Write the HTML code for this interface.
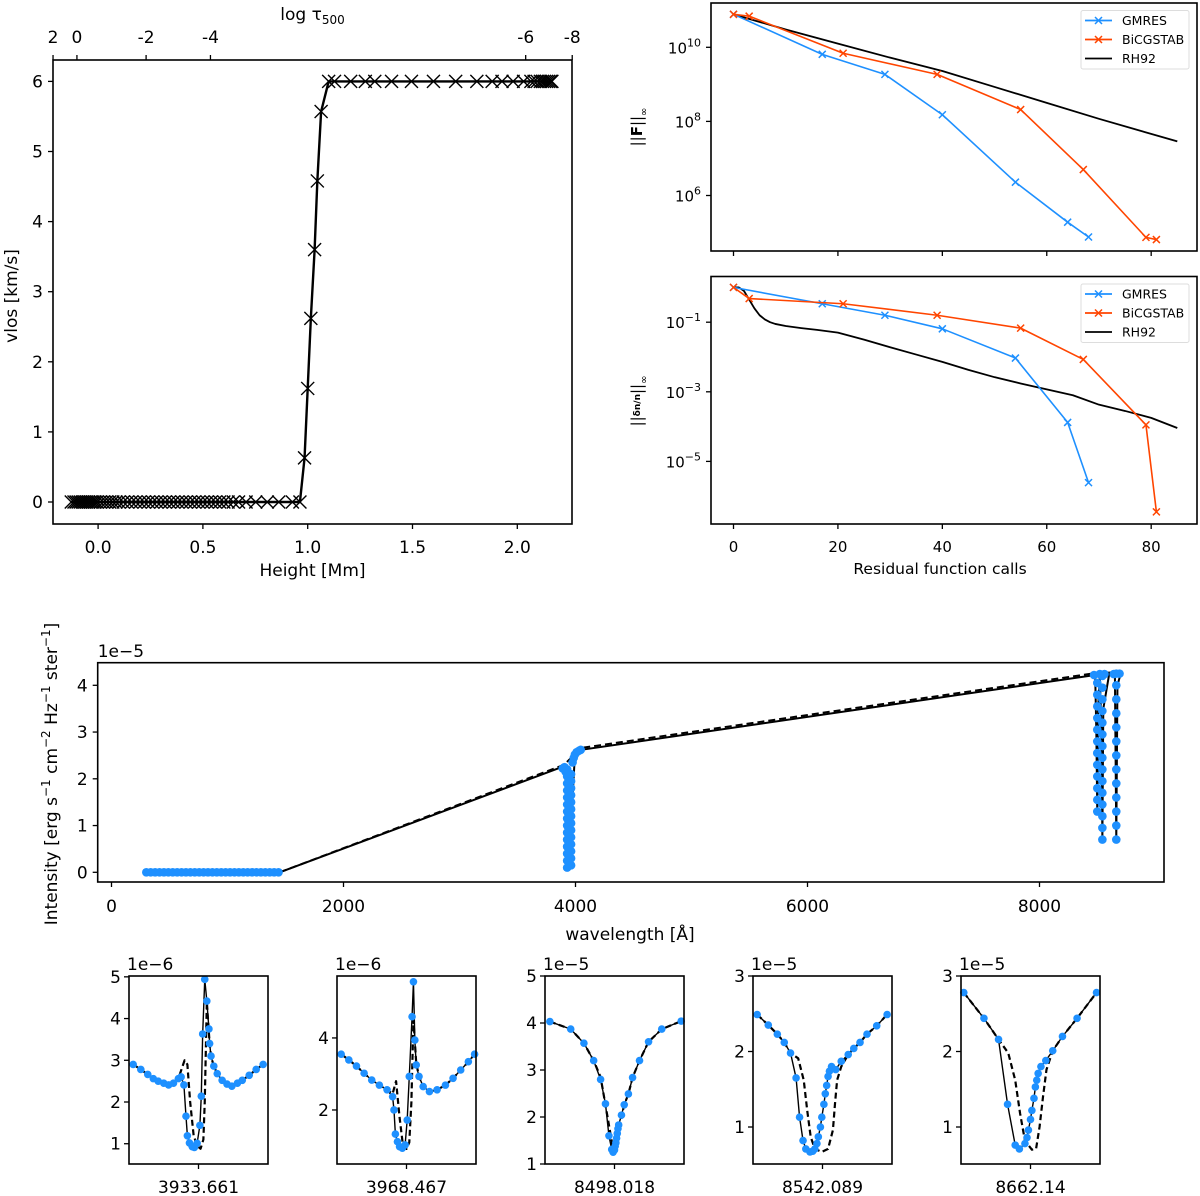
<!DOCTYPE html>
<html><head><meta charset="utf-8"><style>
html,body{margin:0;padding:0;background:#fff;}
svg{display:block;font-family:"DejaVu Sans","Liberation Sans",sans-serif;}
</style></head><body>
<svg id="fig" width="1200" height="1196" viewBox="0 0 1200 1196" xmlns="http://www.w3.org/2000/svg"></svg>
<script>
// ---------- data: top-left (velocity vs height) ----------
const heights=[-0.128,-0.115,-0.105,-0.095,-0.085,-0.075,-0.065,-0.055,-0.045,-0.035,-0.025,-0.015,-0.005,0.01,0.025,0.04,0.055,0.07,0.085,0.1,0.12,0.14,0.16,0.18,0.2,0.22,0.24,0.26,0.28,0.3,0.32,0.34,0.36,0.38,0.4,0.42,0.44,0.46,0.48,0.5,0.52,0.54,0.56,0.58,0.6,0.62,0.645,0.67,0.706,0.752,0.807,0.862,0.927,0.963,0.985,1.0,1.015,1.033,1.046,1.064,1.10,1.128,1.205,1.275,1.32,1.40,1.495,1.60,1.706,1.807,1.88,1.927,1.98,2.03,2.065,2.08,2.095,2.11,2.12,2.13,2.14,2.15,2.16,2.165];
const vlos=[0,0,0,0,0,0,0,0,0,0,0,0,0,0,0,0,0,0,0,0,0,0,0,0,0,0,0,0,0,0,0,0,0,0,0,0,0,0,0,0,0,0,0,0,0,0,0,0,0,0,0,0,0,0,0.63,1.62,2.62,3.6,4.58,5.57,6,6,6,6,6,6,6,6,6,6,6,6,6,6,6,6,6,6,6,6,6,6,6,6];
const hTickVals=[0,0.5,1,1.5,2];
const hTickLabels=['0.0','0.5','1.0','1.5','2.0'];
const vTickVals=[0,1,2,3,4,5,6];
const tauTickLabels=['2','0','-2','-4','-6','-8'];
const tauTickHeights=[-0.215,-0.101,0.229,0.536,2.040,2.262];

// ---------- data: convergence panels ----------
const gmCalls=[0,17,29,40,54,64,68];
const gmLogF=[10.89,9.81,9.27,8.18,6.36,5.28,4.88];
const biCalls=[0,3,21,39,55,67,79,81];
const biLogF=[10.89,10.84,9.84,9.27,8.32,6.7,4.87,4.81];
const rhCallsF=[0,10,20,30,40,50,60,70,85];
const rhLogF=[10.89,10.48,10.1,9.72,9.36,8.93,8.5,8.07,7.46];
const gmLogN=[0,-0.47,-0.8,-1.19,-2.03,-3.88,-5.61];
const biLogN=[0,-0.32,-0.47,-0.8,-1.17,-2.07,-3.95,-6.45];
const rhCallsN=[0,1,2,3,4,5,6,7,8,10,13,16,20,25,30,35,40,45,50,55,60,65,70,75,80,85];
const rhLogN=[0,0,-0.1,-0.35,-0.6,-0.8,-0.92,-1.0,-1.05,-1.11,-1.17,-1.22,-1.3,-1.5,-1.72,-1.93,-2.14,-2.37,-2.58,-2.76,-2.93,-3.1,-3.37,-3.55,-3.75,-4.04];
const callTicks=[0,20,40,60,80];
const fTickExps=[10,8,6];
const nTickExps=[-1,-3,-5];

// ---------- data: full spectrum ----------
const specWl=[1450,3870,3900,3915,3925,3934,3945,3955,3962,3968,3975,3990,4010,4030,4050,8480,8490,8498,8505,8520,8535,8542,8550,8600,8650,8662,8672,8700];
const specI=[0,2.24,2.28,2.0,1.0,0.1,1.5,1.5,0.6,0.12,1.6,2.3,2.45,2.55,2.62,4.22,3.0,1.28,3.5,4.2,3.0,0.68,3.5,4.23,4.24,0.7,4.0,4.25];
const specWlD=[1450,3880,3905,4050,8480,8700];
const specID=[0,2.28,2.31,2.66,4.26,4.28];
const dotWl=[300,338,376,414,452,490,528,566,604,642,680,718,756,794,832,870,908,946,984,1022,1060,1098,1136,1174,1212,1250,1288,1326,1364,1402,1440,
3890,3905,3915,3928,3928,3928,3928,3928,3928,3928,3928,3928,3928,3928,3928,3928,3928,3928,3962,3962,3962,3962,3962,3962,3962,3962,3962,3962,3962,3962,3962,3962,3975,3985,3995,4010,4030,4045,
8470,8498,8498,8498,8498,8498,8498,8498,8498,8498,8498,8498,8498,8520,8542,8542,8542,8542,8542,8542,8542,8542,8542,8542,8542,8542,8542,8542,8542,8560,8640,8662,8662,8662,8662,8662,8662,8662,8662,8662,8662,8662,8662,8662,8690];
const dotI=[0,0,0,0,0,0,0,0,0,0,0,0,0,0,0,0,0,0,0,0,0,0,0,0,0,0,0,0,0,0,0,
2.22,2.25,2.15,0.1,0.25,0.4,0.55,0.7,0.85,1.0,1.15,1.3,1.45,1.6,1.75,1.9,2.05,2.2,0.15,0.3,0.45,0.6,0.75,0.9,1.05,1.2,1.35,1.5,1.65,1.8,1.95,2.1,2.35,2.45,2.52,2.57,2.6,2.62,
4.22,1.3,1.55,1.8,2.05,2.3,2.55,2.8,3.05,3.3,3.55,3.8,4.05,4.24,0.7,0.95,1.2,1.45,1.7,1.95,2.2,2.45,2.7,2.95,3.2,3.45,3.7,3.95,4.2,4.24,4.24,0.7,1.0,1.3,1.6,1.9,2.2,2.5,2.8,3.1,3.4,3.7,4.0,4.25,4.25];
const wlTicks=[0,2000,4000,6000,8000];
const iTicks=[0,1,2,3,4];

// ---------- data: line-core panels ----------
const lineNames=['3933.661','3968.467','8498.018','8542.089','8662.14'];
const lineExp=['1e\u22126','1e\u22126','1e\u22125','1e\u22125','1e\u22125'];
const lineYlo=[0.514,0.5,1.0,0.51,0.51];
const lineYhi=[5.02,5.72,5.0,3.0,3.0];
const lineTicks=[[1,2,3,4,5],[2,4],[1,2,3,4,5],[1,2,3],[1,2,3]];
const p1x=[-0.94,-0.83,-0.73,-0.65,-0.58,-0.5,-0.43,-0.36,-0.29,-0.25,-0.21,-0.18,-0.16,-0.13,-0.09,-0.06,-0.02,0.02,0.04,0.06,0.09,0.12,0.15,0.16,0.18,0.22,0.27,0.34,0.41,0.48,0.56,0.63,0.73,0.83,0.93];
const p1v=[2.90,2.78,2.66,2.56,2.50,2.45,2.41,2.45,2.56,2.60,2.41,1.66,1.19,1.02,0.93,0.91,1.01,1.44,2.14,3.63,4.94,4.42,3.75,3.40,3.10,2.86,2.68,2.52,2.43,2.38,2.45,2.52,2.64,2.78,2.90];
const p1dx=[-0.94,-0.83,-0.73,-0.65,-0.58,-0.5,-0.43,-0.36,-0.29,-0.2,-0.16,-0.12,-0.07,-0.02,0.03,0.07,0.09,0.12,0.16,0.18,0.22,0.27,0.34,0.41,0.48,0.56,0.63,0.73,0.83,0.93];
const p1dv=[2.90,2.78,2.66,2.56,2.50,2.45,2.41,2.45,2.56,3.0,2.9,2.0,1.2,0.95,0.88,1.1,2.0,4.4,3.4,3.10,2.86,2.68,2.52,2.43,2.38,2.45,2.52,2.64,2.78,2.90];
const p2x=[-0.94,-0.83,-0.72,-0.61,-0.5,-0.39,-0.28,-0.2,-0.18,-0.16,-0.13,-0.1,-0.06,-0.02,0.01,0.04,0.08,0.1,0.12,0.14,0.18,0.24,0.33,0.44,0.56,0.67,0.78,0.89,0.98];
const p2v=[3.55,3.39,3.22,3.02,2.83,2.69,2.56,2.37,2.0,1.33,1.12,0.98,0.94,1.03,1.72,2.93,4.59,5.56,3.94,3.25,2.93,2.65,2.51,2.56,2.69,2.88,3.11,3.34,3.55];
const p2dx=[-0.94,-0.83,-0.72,-0.61,-0.5,-0.39,-0.28,-0.2,-0.15,-0.1,-0.05,0.0,0.04,0.07,0.1,0.14,0.18,0.24,0.33,0.44,0.56,0.67,0.78,0.89,0.98];
const p2dv=[3.55,3.39,3.22,3.02,2.83,2.69,2.56,2.45,2.8,1.8,1.0,0.92,1.1,2.2,4.5,3.3,2.93,2.65,2.51,2.56,2.69,2.88,3.11,3.34,3.55];
const p3x=[-0.93,-0.63,-0.44,-0.3,-0.2,-0.13,-0.08,-0.04,-0.02,0.0,0.01,0.02,0.03,0.04,0.05,0.06,0.1,0.14,0.2,0.26,0.36,0.49,0.68,0.96];
const p3v=[4.03,3.87,3.57,3.2,2.80,2.28,1.60,1.31,1.25,1.3,1.38,1.45,1.55,1.65,1.75,1.83,2.04,2.26,2.49,2.84,3.20,3.60,3.87,4.04];
const p3dx=[-0.93,-0.63,-0.44,-0.3,-0.2,-0.1,-0.03,0.02,0.06,0.1,0.14,0.2,0.26,0.36,0.49,0.68,0.96];
const p3dv=[4.03,3.87,3.57,3.2,2.85,2.0,1.4,1.25,1.6,2.0,2.26,2.49,2.84,3.20,3.60,3.87,4.04];
const p4x=[-0.94,-0.78,-0.65,-0.55,-0.46,-0.38,-0.33,-0.28,-0.24,-0.18,-0.14,-0.11,-0.08,-0.06,-0.03,-0.01,0.02,0.04,0.06,0.08,0.1,0.13,0.19,0.27,0.37,0.45,0.54,0.64,0.78,0.93];
const p4v=[2.49,2.35,2.23,2.12,1.98,1.65,1.13,0.82,0.71,0.67,0.68,0.71,0.78,0.87,1.0,1.13,1.3,1.44,1.55,1.67,1.74,1.8,1.76,1.87,1.96,2.04,2.12,2.23,2.34,2.49];
const p4dx=[-0.94,-0.78,-0.65,-0.55,-0.46,-0.35,-0.27,-0.22,-0.17,-0.11,-0.01,0.08,0.15,0.18,0.21,0.27,0.37,0.45,0.54,0.64,0.78,0.93];
const p4dv=[2.49,2.35,2.23,2.12,1.98,1.91,1.62,1.22,0.87,0.71,0.67,0.71,0.96,1.31,1.62,1.8,1.96,2.04,2.12,2.23,2.34,2.49];
const p5x=[-0.96,-0.67,-0.46,-0.33,-0.22,-0.16,-0.08,-0.05,-0.03,0.0,0.02,0.05,0.07,0.09,0.11,0.15,0.22,0.32,0.46,0.67,0.95];
const p5v=[2.78,2.44,2.16,1.30,0.76,0.71,0.78,0.86,0.96,1.1,1.22,1.38,1.53,1.62,1.71,1.8,1.88,2.01,2.2,2.44,2.78];
const p5dx=[-0.96,-0.67,-0.46,-0.32,-0.22,-0.15,-0.08,0.02,0.08,0.13,0.18,0.23,0.32,0.46,0.67,0.95];
const p5dv=[2.78,2.44,2.16,1.98,1.62,1.18,0.82,0.7,0.71,1.0,1.4,1.76,2.01,2.2,2.44,2.78];
const lineX=[p1x,p2x,p3x,p4x,p5x];
const lineV=[p1v,p2v,p3v,p4v,p5v];
const lineDX=[p1dx,p2dx,p3dx,p4dx,p5dx];
const lineDV=[p1dv,p2dv,p3dv,p4dv,p5dv];

// ---------- helpers ----------
const NS='http://www.w3.org/2000/svg';
const svg=document.getElementById('fig');
const BLUE='#1E90FF', RED='#FF4500';
function mk(tag,attrs,parent){const e=document.createElementNS(NS,tag);for(const k in attrs)e.setAttribute(k,attrs[k]);(parent||svg).appendChild(e);return e;}
function grp(name){const g=mk('g',{});return g;}
function txt(g,x,y,s,anchor,size,name){const t=mk('text',{x:x,y:y,'text-anchor':anchor,'font-size':size,fill:'#000'},g);t.textContent=s;


return t;}
function box(g,x0,y0,x1,y1,name){const r=mk('rect',{x:x0,y:y0,width:x1-x0,height:y1-y0,fill:'none',stroke:'#000','stroke-width':1.6},g);

}
function tick(g,x1,y1,x2,y2,name){const l=mk('line',{x1:x1,y1:y1,x2:x2,y2:y2,stroke:'#000','stroke-width':1.3},g);

}
function poly(g,xs,ys,fx,fy,color,w,dash,name){const pts=xs.map((v,i)=>fx(v).toFixed(2)+','+fy(ys[i]).toFixed(2)).join(' ');
const p=mk('polyline',{points:pts,fill:'none',stroke:color,'stroke-width':w,'stroke-linejoin':'round'},g);if(dash)p.setAttribute('stroke-dasharray',dash);

return p;}
function xmark(g,x,y,s,color,w,name){const p=mk('path',{d:`M${x-s},${y-s}L${x+s},${y+s}M${x-s},${y+s}L${x+s},${y-s}`,stroke:color,'stroke-width':w,fill:'none'},g);

}
function dot(g,x,y,r,name){const c=mk('circle',{cx:x,cy:y,r:r,fill:BLUE},g);

}
function pow10(g,x,y,e,name){const t=mk('text',{x:x,y:y,'text-anchor':'end','font-size':15},g);


const a=mk('tspan',{},t);a.textContent='10';const b=mk('tspan',{dy:-7,'font-size':11},t);b.textContent=(e<0?'\u2212':'')+Math.abs(e);}

// ---------- top-left plot ----------
(function(){
const g=grp('velocity-panel');
const L=53,R=572,T=60,B=524;
const hx=h=>98.1+h*209.6, vy=v=>502-v*70.1;
poly(g,heights,vlos,hx,vy,'#000',2.4,null,'vlos-line');
heights.forEach((h,i)=>xmark(g,hx(h),vy(vlos[i]),6.5,'#000',1.4,'vlos-marker'));
box(g,L,T,R,B,'velocity-axes-frame');
hTickVals.forEach((v,i)=>{tick(g,hx(v),B,hx(v),B+5,'x-tick');txt(g,hx(v),B+29,hTickLabels[i],'middle',17,'x-tick-label');});
vTickVals.forEach(v=>{tick(g,L,vy(v),L-5,vy(v),'y-tick');txt(g,L-10,vy(v)+6,String(v),'end',17,'y-tick-label');});
tauTickHeights.forEach((h,i)=>{tick(g,hx(h),T,hx(h),T-5,'top-tick');txt(g,hx(h),T-17,tauTickLabels[i],'middle',17,'top-tick-label');});
txt(g,(L+R)/2,576,'Height [Mm]','middle',17,'x-axis-title');
const t=mk('text',{x:(L+R)/2,y:20,'text-anchor':'middle','font-size':17},g);


const t1=mk('tspan',{},t);t1.textContent='log \u03C4';const t2=mk('tspan',{dy:4,'font-size':12},t);t2.textContent='500';
const yl=txt(g,0,0,'vlos [km/s]','middle',17,'y-axis-title');yl.setAttribute('transform','translate(17,296) rotate(-90)');
})();

// ---------- convergence panels ----------
function convPanel(name,T,B,fy,gmY,biY,rhX,rhY,tickExps,showX){
const g=grp(name);
const L=711,R=1197;
const cx=c=>733.5+c*5.221;
poly(g,rhX,rhY,cx,fy,'#000',1.8,null,'rh92-line');
poly(g,gmCalls,gmY,cx,fy,BLUE,1.6,null,'gmres-line');
gmCalls.forEach((c,i)=>xmark(g,cx(c),fy(gmY[i]),3.5,BLUE,1.5,'gmres-marker'));
poly(g,biCalls,biY,cx,fy,RED,1.6,null,'bicgstab-line');
biCalls.forEach((c,i)=>xmark(g,cx(c),fy(biY[i]),3.5,RED,1.5,'bicgstab-marker'));
box(g,L,T,R,B,'axes-frame');
callTicks.forEach(c=>{tick(g,cx(c),B,cx(c),B+5,'x-tick');if(showX)txt(g,cx(c),B+28,String(c),'middle',15,'x-tick-label');});
tickExps.forEach(e=>{tick(g,L,fy(e),L-5,fy(e),'y-tick');pow10(g,L-10,fy(e)+6,e,'y-tick-label');});
const lg=grp('legend');g.appendChild(lg);
const lb=mk('rect',{x:1081,y:T+7.5,width:108,height:58.5,fill:'#fff',stroke:'#ddd','stroke-width':1,rx:2},lg);


const ents=[['GMRES',BLUE,true],['BiCGSTAB',RED,true],['RH92','#000',false]];
ents.forEach((en,i)=>{const y=T+17.5+i*19;
const ln=mk('line',{x1:1085,y1:y,x2:1112,y2:y,stroke:en[1],'stroke-width':1.8},lg);


if(en[2])xmark(lg,1098.5,y,3.5,en[1],1.5,'legend-marker');
txt(lg,1122,y+4.5,en[0],'start',12.5,'legend-entry');});
return g;}
const gF=convPanel('residual-norm-panel',3,251,L=>47.3-(L-10)*37.05,gmLogF,biLogF,rhCallsF,rhLogF,fTickExps,false);
(function(){const t=mk('text',{'text-anchor':'middle','font-size':15,transform:'translate(642,127) rotate(-90)'},gF);


const a=mk('tspan',{},t);a.textContent='||';const b=mk('tspan',{'font-weight':'bold'},t);b.textContent='F';const c=mk('tspan',{},t);c.textContent='||';const d=mk('tspan',{dy:5,'font-size':10},t);d.textContent='\u221E';})();
const gN=convPanel('update-norm-panel',276.5,524,L=>322.2-(L+1)*34.8,gmLogN,biLogN,rhCallsN,rhLogN,nTickExps,true);
(function(){const t=mk('text',{'text-anchor':'middle','font-size':15,transform:'translate(642,401) rotate(-90)'},gN);


const a=mk('tspan',{},t);a.textContent='||';const b=mk('tspan',{'font-size':9,'font-weight':'bold',dy:-2},t);b.textContent='\u03B4n/n';const c=mk('tspan',{dy:2},t);c.textContent='||';const d=mk('tspan',{dy:5,'font-size':10},t);d.textContent='\u221E';
txt(gN,940,574,'Residual function calls','middle',15.5,'x-axis-title');})();

// ---------- full spectrum ----------
(function(){
const g=grp('spectrum-panel');
const L=97.7,R=1164,T=662.7,B=882;
const bx=w=>111.5+w*0.116, by=v=>872.3-v*46.75;
poly(g,specWl,specI,bx,by,'#000',2,null,'spectrum-solid-line');
poly(g,specWlD,specID,bx,by,'#000',2,'7,4','spectrum-dashed-line');
dotWl.forEach((w,i)=>dot(g,bx(w),by(dotI[i]),4.3,'spectrum-point'));
box(g,L,T,R,B,'spectrum-axes-frame');
wlTicks.forEach(w=>{tick(g,bx(w),B,bx(w),B+5,'x-tick');txt(g,bx(w),B+30,String(w),'middle',17,'x-tick-label');});
iTicks.forEach(v=>{tick(g,L,by(v),L-5,by(v),'y-tick');txt(g,L-10,by(v)+6,String(v),'end',17,'y-tick-label');});
txt(g,L,657,'1e\u22125','start',17,'y-offset-label');
txt(g,630,940,'wavelength [\u00C5]','middle',17,'x-axis-title');
const t=mk('text',{'text-anchor':'middle','font-size':17,transform:'translate(57,774) rotate(-90)'},g);


const parts=[['Intensity [erg s',0],['\u22121',-1],[' cm',0],['\u22122',-1],[' Hz',0],['\u22121',-1],[' ster',0],['\u22121',-1],[']',0]];
let prev=0;parts.forEach(p=>{const s=mk('tspan',{},t);s.textContent=p[0];const dy=(p[1]?-7:0)-prev;if(dy)s.setAttribute('dy',dy);if(p[1])s.setAttribute('font-size',12);prev=p[1]?-7:0;});
})();

// ---------- line-core panels ----------
for(let k=0;k<5;k++){
const g=grp('line-panel-'+lineNames[k]);
const L=129+k*208, R=L+139, T=976, B=1164;
const lo=lineYlo[k], hi=lineYhi[k];
const fx=x=>L+(x+1)/2*(R-L), fy=v=>B-(v-lo)/(hi-lo)*(B-T);
poly(g,lineDX[k],lineDV[k],fx,fy,'#000',2.2,'6,3.5','line-dashed-profile');
poly(g,lineX[k],lineV[k],fx,fy,'#000',1.4,null,'line-solid-profile');
lineX[k].forEach((x,i)=>dot(g,fx(x),fy(lineV[k][i]),3.8,'line-point'));
box(g,L,T,R,B,'line-axes-frame');
tick(g,(L+R)/2,B,(L+R)/2,B+5,'x-tick');
txt(g,(L+R)/2,B+29,lineNames[k],'middle',17,'x-tick-label');
lineTicks[k].forEach(v=>{tick(g,L,fy(v),L-5,fy(v),'y-tick');txt(g,L-8,fy(v)+6,String(v),'end',17,'y-tick-label');});
txt(g,L-2,970,lineExp[k],'start',17,'y-offset-label');
}
</script>
</body></html>
